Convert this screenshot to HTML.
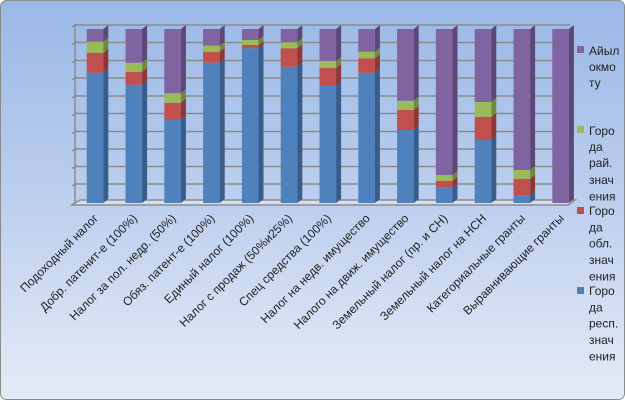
<!DOCTYPE html>
<html><head><meta charset="utf-8"><style>
html,body{margin:0;padding:0;width:625px;height:400px;overflow:hidden;background:#fff}
svg{display:block}
text{font-family:"Liberation Sans","DejaVu Sans",sans-serif;font-size:12px;fill:#222}
.lab{font-size:12px}
</style></head><body>
<svg width="625" height="400" viewBox="0 0 625 400">
<defs>
<linearGradient id="bg" x1="0" y1="0" x2="0" y2="1">
<stop offset="0" stop-color="#9ab8e6"/><stop offset="0.5" stop-color="#bccfee"/><stop offset="1" stop-color="#e4ebf6"/>
</linearGradient>
</defs>
<rect x="0.5" y="0.5" width="624" height="399" rx="6" fill="url(#bg)" stroke="#8a8a8a"/>
<g stroke="#8c8c8c" stroke-width="1.5" fill="none">
<path d="M75 25H570M75 42.5H570M75 60.5H570M75 78H570M75 96H570M75 113.5H570M75 131.5H570M75 149H570M75 166.5H570M75 184H570"/>
<path d="M72 27L77 24M72 44.5L77 41.5M72 62.5L77 59.5M72 80L77 77M72 98L77 95M72 115.5L77 112.5M72 133.5L77 130.5M72 151L77 148M72 168.5L77 165.5M72 186L77 183"/>
<path d="M75 24V203"/>
<path d="M75 203L80 200H575L568 205H72Z" fill="#d6def0"/>
</g>
<g id="bars"></g>
<g id="labels"></g>
<g>
<rect x="577" y="46" width="7" height="7" fill="#8064a2"/>
<text x="589" y="55">Айыл</text><text x="589" y="71">окмо</text><text x="589" y="87">ту</text>
<rect x="577" y="126" width="7" height="7" fill="#9bbb59"/>
<text x="589" y="135">Горо</text><text x="589" y="151">да</text><text x="589" y="167">рай.</text><text x="589" y="184">знач</text><text x="589" y="200.5">ения</text>
<rect x="577" y="207" width="7" height="7" fill="#c0504d"/>
<text x="589" y="215">Горо</text><text x="589" y="231.5">да</text><text x="589" y="247.5">обл.</text><text x="589" y="264">знач</text><text x="589" y="280.5">ения</text>
<rect x="577" y="287" width="7" height="7" fill="#4f81bd"/>
<text x="589" y="295">Горо</text><text x="589" y="311.5">да</text><text x="589" y="327.5">респ.</text><text x="589" y="344">знач</text><text x="589" y="360.5">ения</text>
</g>
</svg>
<script>
var d=[[72.7,52.7,41.7],[84.7,71.7,62.7],[120,102.7,93.3],[62.7,51.7,45.7],[48.3,45,40],[66.7,48.3,42.3],[85,67.7,61],[72.7,58.3,51.7],[130,110,100.7],[187.7,180.7,175],[140,116.7,102],[195.7,178.7,170],[203,203,203]];
var labels=["Подоходный налог","Добр. патенит-е (100%)","Налог за пол. недр. (50%)","Обяз. патент-е (100%)","Единый налог (100%)","Налог с продаж (50%и25%)","Спец средства (100%)","Налог на недв. имущество","Налого на движ. имущество","Земельный налог (пр. и СН)","Земельный налог на НСН","Категориальные гранты","Выравнивающие гранты"];
var cols=[["#4f81bd","#385d8a","#3c6496"],["#c0504d","#8c3836","#a04340"],["#9bbb59","#71893f","#7f9a48"],["#8064a2","#5c4776","#6a5388"]];
var ns="http://www.w3.org/2000/svg",g=document.getElementById("bars"),lg=document.getElementById("labels");
function p(pts,f){var e=document.createElementNS(ns,"polygon");e.setAttribute("points",pts);e.setAttribute("fill",f);g.appendChild(e);}
for(var i=0;i<13;i++){
 var x=86.7+38.8*i,w=16.6,dx=5,dy=4;
 var b=[203,d[i][0],d[i][1],d[i][2],29];
 for(var s=0;s<4;s++){var y1=b[s],y0=b[s+1];if(y1-y0<0.1)continue;
  p(x+","+y0+" "+(x+w)+","+y0+" "+(x+w)+","+y1+" "+x+","+y1,cols[s][0]);
  p((x+w)+","+y0+" "+(x+w+dx)+","+(y0-dy)+" "+(x+w+dx)+","+(y1-dy)+" "+(x+w)+","+y1,cols[s][1]);
 }
 var top=29;var c=cols[3];
 p(x+","+top+" "+(x+dx)+","+(top-dy)+" "+(x+w+dx)+","+(top-dy)+" "+(x+w)+","+top,c[2]);
 var t=document.createElementNS(ns,"text");var ex=x+w/2+4,ey=219;
 t.setAttribute("x",ex);t.setAttribute("y",ey);t.setAttribute("text-anchor","end");t.setAttribute("class","lab");
 t.setAttribute("transform","rotate(-45 "+ex+" "+ey+")");t.textContent=labels[i];lg.appendChild(t);
}
</script>
</body></html>
